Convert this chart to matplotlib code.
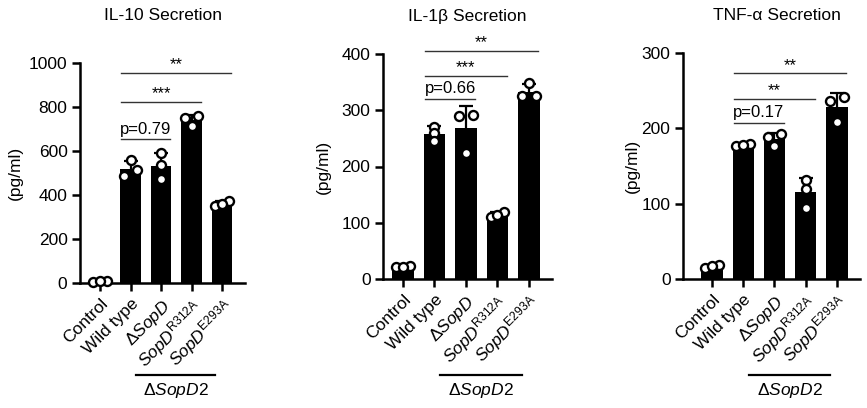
import numpy as np
import matplotlib
matplotlib.use("Agg")
import matplotlib.pyplot as plt
import matplotlib.transforms as mtransforms

plt.rcParams['font.family'] = ['Liberation Sans', 'DejaVu Sans']
plt.rcParams['mathtext.fontset'] = 'custom'
plt.rcParams['mathtext.rm'] = 'Liberation Sans'
plt.rcParams['mathtext.it'] = 'Liberation Sans:italic'

# ---- data ----
groups = ['Control', 'Wild type', 'Δ' + r'$\mathit{SopD}$',
          r'$\mathit{SopD}^{\mathrm{R312A}}$', r'$\mathit{SopD}^{\mathrm{E293A}}$']

il10 = [[6, 8, 7], [488, 559, 514], [590, 535, 475], [760, 750, 715], [350, 374, 359]]
il1b = [[21, 23, 22], [271, 260, 245], [292, 289, 224], [111, 119, 114], [348, 325, 326]]
tnfa = [[15, 19, 17], [177, 179, 178], [192, 188, 177], [132, 119, 94], [242, 236, 208]]

titles = ['IL-10 Secretion', 'IL-1β Secretion', 'TNF-α Secretion']
yticks = [[0, 200, 400, 600, 800, 1000], [0, 100, 200, 300, 400], [0, 100, 200, 300]]

# comparisons: (group a, group b, bracket height, label)
stats_il10 = [(1, 2, 653, 'p=0.79'), (1, 3, 825, '***'), (1, 4, 954, '**')]
stats_il1b = [(1, 2, 320, 'p=0.66'), (1, 3, 361, '***'), (1, 4, 405, '**')]
stats_tnfa = [(1, 2, 207, 'p=0.17'), (1, 3, 239, '**'), (1, 4, 273, '**')]

# ---- layout (pixels of the 867x408 canvas) ----
W, H = 867, 408
# left, right, top, bottom of each axes box
boxes = [(80, 245, 63, 283), (383, 552, 54, 279), (683, 860, 53, 279)]
xlims = [(-0.66, 4.75), (-0.63, 4.73), (-0.93, 4.74)]
title_x = [163, 467, 777]
ylabel_x = [15, 323, 632]
bar_w = 0.68
marker_d = 9.0  # px


def swarm_offsets(vals, px_x, px_y):
    """points closer than ~a marker in y are laid out side by side"""
    order = np.argsort(vals)
    clusters = [[order[0]]]
    for a, b in zip(order[:-1], order[1:]):
        if (vals[b] - vals[a]) * px_y < marker_d * 0.65:
            clusters[-1].append(b)
        else:
            clusters.append([b])
    offs = np.zeros(len(vals))
    for c in clusters:
        n = len(c)
        step = marker_d * (1.5 if n == 2 else 0.75) / px_x
        for k, i in enumerate(c):
            offs[i] = (k - (n - 1) / 2) * step
    return offs


fig = plt.figure(figsize=(W / 100, H / 100), dpi=100)

panels = [(il10, stats_il10), (il1b, stats_il1b), (tnfa, stats_tnfa)]
for p, (data, stats) in enumerate(panels):
    l, r, t, b = boxes[p]
    ax = fig.add_axes([l / W, (H - b) / H, (r - l) / W, (b - t) / H])
    x = np.arange(len(groups))
    means = [np.mean(v) for v in data]
    sds = [np.std(v, ddof=1) for v in data]

    ax.bar(x, means, width=bar_w, color='black', zorder=1)
    ax.errorbar(x, means, yerr=sds, fmt='none', ecolor='black', elinewidth=1.6,
                capsize=5, capthick=1.6, zorder=2)

    ax.set_xlim(*xlims[p])
    ax.set_ylim(yticks[p][0], yticks[p][-1])
    px_x = (r - l) / (xlims[p][1] - xlims[p][0])
    px_y = (b - t) / (yticks[p][-1] - yticks[p][0])
    for i, vals in enumerate(data):
        offs = swarm_offsets(np.array(vals, float), px_x, px_y)
        ax.scatter(i + offs, vals, s=(marker_d * 0.72) ** 2, facecolor='white',
                   edgecolor='black', linewidths=1.7, zorder=3, clip_on=False)

    for a, c, yv, txt in stats:
        ax.plot([a - 0.3, c + 0.3], [yv, yv], color='#333333', lw=1.0, clip_on=False)
        ax.annotate(txt, ((a + c) / 2, yv), xytext=(0, 2 if txt.startswith('p') else 0.5),
                    textcoords='offset points', ha='center', va='bottom', fontsize=12,
                    annotation_clip=False)

    for s in ['top', 'right']:
        ax.spines[s].set_visible(False)
    for s in ['left', 'bottom']:
        ax.spines[s].set_linewidth(1.8)
    ax.set_yticks(yticks[p])
    ax.set_xticks(x)
    ax.set_xticklabels(groups, rotation=45, ha='right', va='top',
                       rotation_mode='anchor', fontsize=12.5)
    ax.tick_params(axis='both', width=1.8, length=6, labelsize=12.5, pad=3)
    ax.tick_params(axis='x', pad=3.5)

    # group bracket under the two point mutants
    trans = mtransforms.blended_transform_factory(ax.transData, fig.transFigure)
    ax.plot([1.18, 3.78], [(H - 375) / H] * 2, color='black', lw=1.6,
            transform=trans, clip_on=False)
    ax.text((1.18 + 3.78) / 2, (H - 391) / H, 'Δ' + r'$\mathit{SopD2}$', transform=trans,
            ha='center', va='center', fontsize=12.5)

    fig.text(title_x[p] / W, (H - 16) / H, titles[p], ha='center', va='center', fontsize=12.5)
    fig.text(ylabel_x[p] / W, (H - (t + b) / 2) / H, '(pg/ml)', rotation=90,
             ha='center', va='center', fontsize=12.5)

fig.savefig('out.png', dpi=100)
